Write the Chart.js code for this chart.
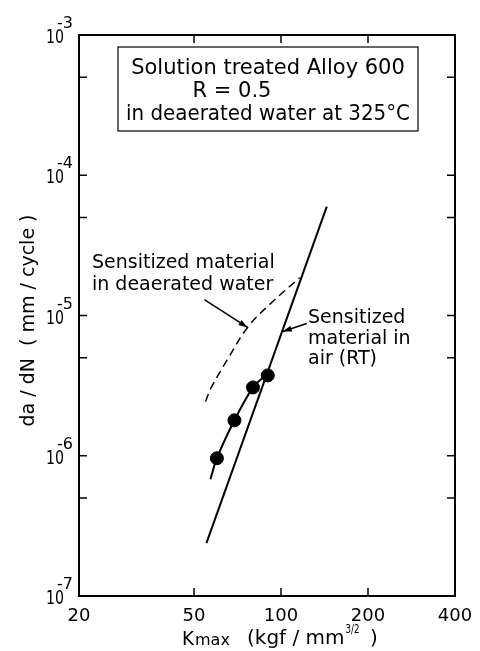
<!DOCTYPE html>
<html>
<head>
<meta charset="utf-8">
<script src="https://cdn.jsdelivr.net/npm/chart.js@4/dist/chart.umd.min.js"></script>
<style>
  body { margin: 0; background: #fff; }
  canvas { display: block; }
</style>
</head>
<body>
<canvas id="chart" width="480" height="651"></canvas>
<script>
// measured points, sensitized material in deaerated water
var kmaxPoints = [60, 69, 80, 90];
var dadnPoints = [9.6e-7, 1.79e-6, 3.07e-6, 3.74e-6];
// curve through the points
var kmaxFit = [57, 60, 69, 80, 89];
var dadnFit = [6.8e-7, 9.6e-7, 1.79e-6, 3.07e-6, 3.78e-6];
// sensitized material in air (RT)
var kmaxAir = [55.2, 144];
var dadnAir = [2.38e-7, 5.97e-5];
// sensitized material in deaerated water (dashed)
var kmaxWater = [54.8, 57.4, 65.3, 76.6, 91.4, 116.1];
var dadnWater = [2.44e-6, 3.07e-6, 4.86e-6, 8.22e-6, 1.20e-5, 1.86e-5];

var xTicks = [20, 50, 100, 200, 400];
var xTickLabels = ['20', '50', '100', '200', '400'];
var yTicks = [1e-7, 5e-7, 1e-6, 5e-6, 1e-5, 5e-5, 1e-4, 5e-4, 1e-3];
var yLabelValues = [1e-7, 1e-6, 1e-5, 1e-4, 1e-3];
var yLabelExps = ['-7', '-6', '-5', '-4', '-3'];

var FONT = "'DejaVu Sans', 'Noto Sans', sans-serif";

function toXY(xs, ys) {
    var out = [];
    for (var i = 0; i < xs.length; i++) {
        out.push({x: xs[i], y: ys[i]});
    }
    return out;
}

// draws text, squeezed to maxW if given; returns drawn width
function txt(ctx, s, x, y, size, align, maxW) {
    ctx.font = size + 'px ' + FONT;
    ctx.textAlign = align || 'left';
    ctx.textBaseline = 'alphabetic';
    var w = ctx.measureText(s).width;
    if (maxW) {
        ctx.fillText(s, x, y, maxW);
        return Math.min(w, maxW);
    }
    ctx.fillText(s, x, y);
    return w;
}

function arrow(ctx, x1, y1, x2, y2) {
    ctx.beginPath();
    ctx.moveTo(x1, y1);
    ctx.lineTo(x2, y2);
    ctx.stroke();
    var a = Math.atan2(y2 - y1, x2 - x1);
    var len = 9, hw = 3;
    ctx.beginPath();
    ctx.moveTo(x2, y2);
    ctx.lineTo(x2 - len * Math.cos(a) + hw * Math.sin(a), y2 - len * Math.sin(a) - hw * Math.cos(a));
    ctx.lineTo(x2 - len * Math.cos(a) - hw * Math.sin(a), y2 - len * Math.sin(a) + hw * Math.cos(a));
    ctx.closePath();
    ctx.fill();
}

var decor = {
    id: 'decor',
    afterDraw: function (chart) {
        var ctx = chart.ctx;
        var a = chart.chartArea;
        var xs = chart.scales.x, ys = chart.scales.y;
        ctx.save();
        ctx.strokeStyle = '#000';
        ctx.fillStyle = '#000';

        // frame
        ctx.lineWidth = 2;
        ctx.strokeRect(a.left, a.top, a.right - a.left, a.bottom - a.top);

        // inward ticks
        ctx.lineWidth = 1.5;
        ctx.beginPath();
        for (var i = 1; i < yTicks.length - 1; i++) {
            var py = ys.getPixelForValue(yTicks[i]);
            ctx.moveTo(a.left, py); ctx.lineTo(a.left + 8, py);
            ctx.moveTo(a.right, py); ctx.lineTo(a.right - 8, py);
        }
        for (var j = 1; j < xTicks.length - 1; j++) {
            var px = xs.getPixelForValue(xTicks[j]);
            ctx.moveTo(px, a.bottom); ctx.lineTo(px, a.bottom - 8);
            ctx.moveTo(px, a.top); ctx.lineTo(px, a.top + 8);
        }
        ctx.stroke();

        // tick labels
        for (var k = 0; k < xTicks.length; k++) {
            txt(ctx, xTickLabels[k], xs.getPixelForValue(xTicks[k]), a.bottom + 25, 18, 'center');
        }
        for (var m = 0; m < yLabelValues.length; m++) {
            var ty = ys.getPixelForValue(yLabelValues[m]);
            txt(ctx, '10', a.left - 15, ty + 8, 19, 'right', 18);
            txt(ctx, yLabelExps[m], a.left - 22, ty - 7, 16, 'left', 20);
        }

        // axis titles
        ctx.save();
        ctx.translate(34, (a.top + a.bottom) / 2 + 5);
        ctx.rotate(-Math.PI / 2);
        txt(ctx, 'da / dN  ( mm / cycle )', 0, 0, 19, 'center', 220);
        ctx.restore();

        var cx = 182;
        cx += txt(ctx, 'K', cx, 645, 20, 'left', 12) + 1;
        txt(ctx, 'max', cx, 645, 16, 'left', 37);
        cx = 247;
        cx += txt(ctx, '(kgf / mm', cx, 644, 20, 'left', 104) + 1;
        txt(ctx, '3/2', cx, 633, 13, 'left', 14);
        txt(ctx, ')', 370, 644, 20, 'left');

        // condition box
        ctx.lineWidth = 1.2;
        ctx.strokeRect(118, 47, 300, 84);
        txt(ctx, 'Solution treated Alloy 600', 268, 74, 21, 'center');
        txt(ctx, 'R = 0.5', 232, 97, 21, 'center');
        txt(ctx, 'in deaerated water at 325°C', 268, 120, 21, 'center', 284);

        // curve labels
        txt(ctx, 'Sensitized material', 92, 268, 19, 'left');
        txt(ctx, 'in deaerated water', 92, 290, 19, 'left');
        txt(ctx, 'Sensitized', 308, 323, 19, 'left');
        txt(ctx, 'material in', 308, 344, 19, 'left');
        txt(ctx, 'air (RT)', 308, 364, 19, 'left');

        ctx.lineWidth = 1.5;
        arrow(ctx, xs.getPixelForValue(54.3), ys.getPixelForValue(1.30e-5),
                   xs.getPixelForValue(76.6), ys.getPixelForValue(8.22e-6));
        arrow(ctx, xs.getPixelForValue(122.8), ys.getPixelForValue(8.77e-6),
                   xs.getPixelForValue(101.4), ys.getPixelForValue(7.69e-6));
        ctx.restore();
    }
};

var chart = new Chart(document.getElementById('chart'), {
    type: 'scatter',
    data: {
        datasets: [{
            data: toXY(kmaxAir, dadnAir),
            showLine: true,
            borderColor: '#000',
            borderWidth: 2,
            pointRadius: 0
        }, {
            data: toXY(kmaxWater, dadnWater),
            showLine: true,
            borderColor: '#000',
            borderWidth: 1.5,
            borderDash: [8, 5],
            tension: 0.4,
            pointRadius: 0
        }, {
            data: toXY(kmaxFit, dadnFit),
            showLine: true,
            borderColor: '#000',
            borderWidth: 2,
            tension: 0.3,
            pointRadius: 0
        }, {
            data: toXY(kmaxPoints, dadnPoints),
            showLine: false,
            backgroundColor: '#000',
            borderColor: '#000',
            pointRadius: 6.5
        }]
    },
    options: {
        responsive: false,
        animation: false,
        layout: {
            padding: {left: 79, right: 25, top: 35, bottom: 55}
        },
        plugins: {
            legend: {display: false},
            tooltip: {enabled: false}
        },
        scales: {
            x: {type: 'logarithmic', min: 20, max: 400, display: false},
            y: {type: 'logarithmic', min: 1e-7, max: 1e-3, display: false}
        }
    },
    plugins: [decor]
});
</script>
</body>
</html>
